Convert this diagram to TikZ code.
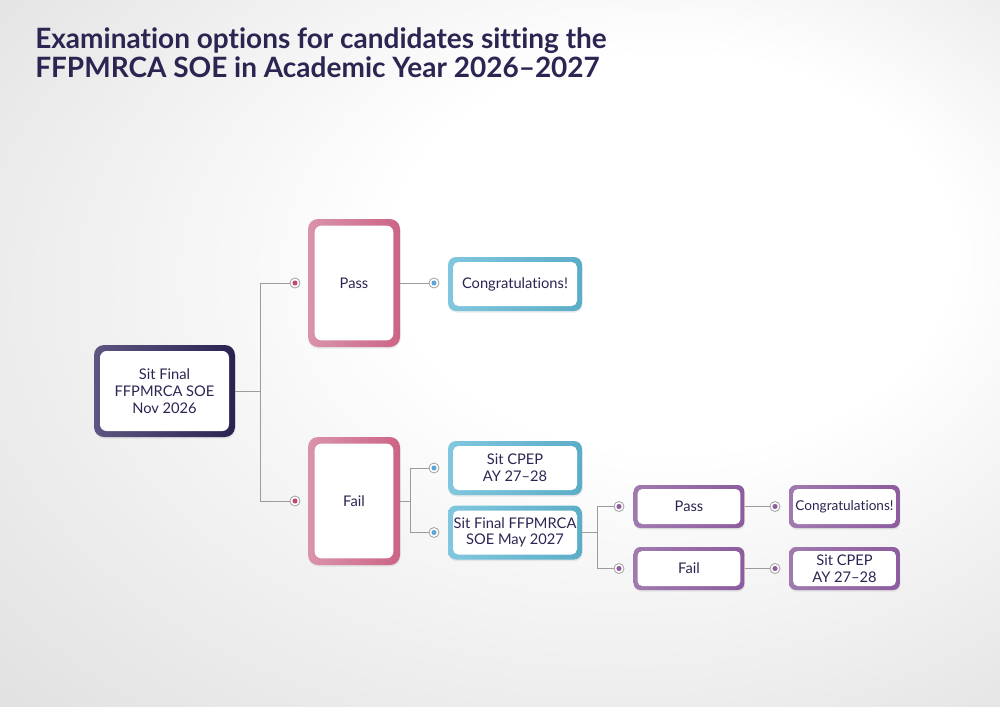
\documentclass[tikz,border=0pt]{standalone}
\usepackage{fontspec}
\setmainfont{Lato}[Ligatures={TeX,NoCommon}]
\usetikzlibrary{shadows}
\definecolor{txt}{HTML}{2B2552}
\definecolor{navyL}{HTML}{5E5680}
\definecolor{navyR}{HTML}{2A2352}
\definecolor{pinkL}{HTML}{DA93AB}
\definecolor{pinkR}{HTML}{CC6485}
\definecolor{blueL}{HTML}{80C7DF}
\definecolor{blueR}{HTML}{5BADC6}
\definecolor{purpL}{HTML}{A07AAF}
\definecolor{purpR}{HTML}{8C5C9E}
\definecolor{dotpink}{HTML}{C8466E}
\definecolor{dotblue}{HTML}{5BA6D6}
\definecolor{dotpurp}{HTML}{8E5B9E}
\definecolor{dotgray}{HTML}{A0A0A0}
\definecolor{linegray}{HTML}{9C9C9C}
\pgfdeclareradialshading{bgshade}{\pgfpoint{12bp}{10bp}}{color(0bp)=(white); color(14bp)=(white); color(50bp)=(black!17)}
\tikzset{
  card/.style={inner sep=0pt, align=center, text=txt, font=\fontsize{11}{12.5}\selectfont,
    drop shadow={opacity=0.15, shadow xshift=0.4pt, shadow yshift=-1.2pt}},
  innerwhite/.style 2 args={path picture={\fill[white, rounded corners=#2]
      ([shift={(#1,#1)}]path picture bounding box.south west) rectangle
      ([shift={(-#1,-#1)}]path picture bounding box.north east);}},
  navycard/.style={card, rounded corners=7.5pt, left color=navyL, right color=navyR,
    innerwhite={4.5pt}{5pt}, minimum width=105.75pt, minimum height=69pt},
  pinkcard/.style={card, rounded corners=7.5pt, left color=pinkL, right color=pinkR,
    innerwhite={5pt}{5pt}, minimum width=69pt, minimum height=96pt},
  bluecard/.style={card, rounded corners=6pt, left color=blueL, right color=blueR,
    innerwhite={3.75pt}{4pt}, minimum width=100.5pt, minimum height=40.5pt},
  purplecard/.style={card, rounded corners=5pt, left color=purpL, right color=purpR,
    innerwhite={3pt}{3.5pt}, minimum width=83pt, minimum height=32.25pt},
  dotbase/.style={circle, draw=dotgray, line width=0.6pt, fill=white, minimum size=7.5pt, inner sep=0pt},
  dotpk/.style={dotbase, path picture={\fill[dotpink] (path picture bounding box.center) circle (1.9pt);}},
  dotbl/.style={dotbase, path picture={\fill[dotblue] (path picture bounding box.center) circle (1.9pt);}},
  dotpu/.style={dotbase, path picture={\fill[dotpurp] (path picture bounding box.center) circle (1.9pt);}},
  conn/.style={draw=linegray, line width=0.75pt},
  titletext/.style={anchor=base west, inner sep=0pt, text=txt, font=\fontsize{21}{24}\selectfont\bfseries}
}
\begin{document}
\begin{tikzpicture}[x=0.75pt,y=-0.75pt]
\useasboundingbox (0,0) rectangle (1000,707);
\shade[shading=bgshade] (0,0) rectangle (1000,707);

\node[titletext] (t1) at (35,48) {Examination options for candidates sitting the};
\node[titletext] (t2) at (35,77) {FFPMRCA SOE in Academic Year 2026–2027};

\node[navycard] (n1) at (164.5,391) {Sit Final\\FFPMRCA SOE\\Nov 2026};
\node[pinkcard] (pass) at (354,283) {Pass};
\node[pinkcard] (fail) at (354,501) {Fail};
\node[bluecard] (cg1) at (515,284) {Congratulations!};
\node[bluecard] (cpep1) at (515,468) {Sit CPEP\\AY 27–28};
\node[bluecard] (may) at (515,532.5) {Sit Final FFPMRCA\\SOE May 2027};
\node[purplecard] (pass2) at (689,506.5) {Pass};
\node[purplecard] (fail2) at (689,568.5) {Fail};
\node[purplecard, font=\fontsize{10.2}{12}\selectfont] (cg2) at (844.5,506.5) {Congratulations!};
\node[purplecard] (cpep2) at (844.5,568.5) {Sit CPEP\\AY 27–28};

\node[dotpk] (d1) at (295,283) {};
\node[dotpk] (d2) at (295,501) {};
\node[dotbl] (d3) at (434,283) {};
\node[dotbl] (d4) at (434,468) {};
\node[dotbl] (d5) at (434,532.5) {};
\node[dotpu] (d6) at (619,506.5) {};
\node[dotpu] (d7) at (619,568.5) {};
\node[dotpu] (d8) at (775,506.5) {};
\node[dotpu] (d9) at (775,568.5) {};

\draw[conn] (n1.east) -- ++(25,0) coordinate (j1);
\draw[conn] (j1) |- (d1);
\draw[conn] (j1) |- (d2);
\draw[conn] (pass.east) -- (d3);
\draw[conn] (fail.east) -- ++(10,0) coordinate (j2);
\draw[conn] (j2) |- (d4);
\draw[conn] (j2) |- (d5);
\draw[conn] (may.east) -- ++(15,0) coordinate (j3);
\draw[conn] (j3) |- (d6);
\draw[conn] (j3) |- (d7);
\draw[conn] (pass2.east) -- (d8);
\draw[conn] (fail2.east) -- (d9);
\end{tikzpicture}
\end{document}
